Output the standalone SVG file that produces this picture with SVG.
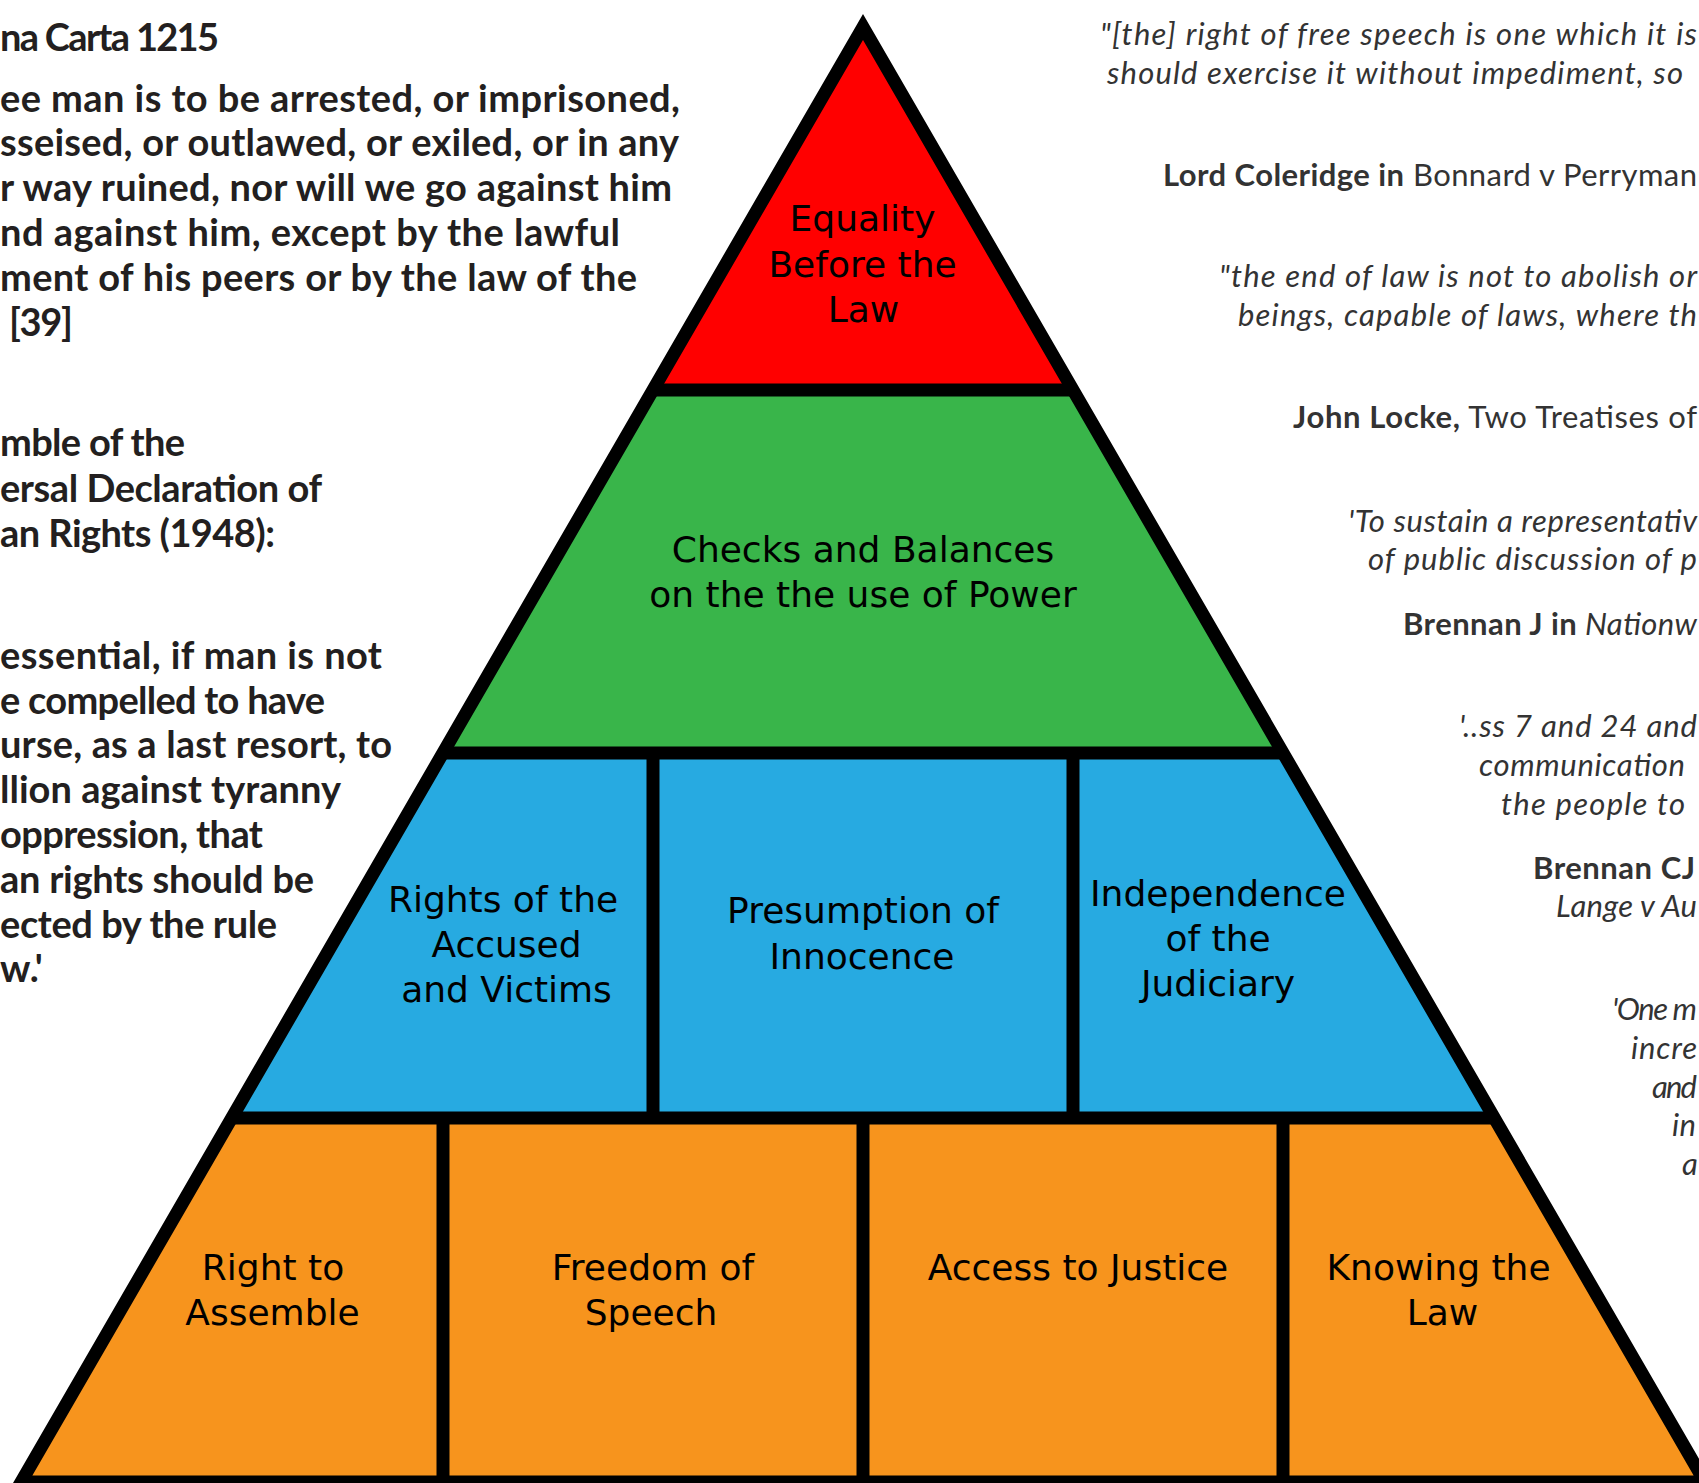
<svg xmlns="http://www.w3.org/2000/svg" width="1699" height="1483" viewBox="0 0 1699 1483">
<style>
.bg{fill:#ffffff}
.red{fill:#ff0000}
.green{fill:#39b54a}
.blue{fill:#27aae1}
.orange{fill:#f7941d}
.lbl{font-family:"DejaVu Sans","Liberation Sans",sans-serif;font-size:36px;fill:#000;text-anchor:middle}
.lt{font-family:Lato,"Liberation Sans",sans-serif;font-weight:700;font-size:38px;fill:#231f20}
.rt{font-family:Lato,"Liberation Sans",sans-serif;font-style:italic;font-weight:400;font-size:31px;fill:#333333}
.b{font-style:normal;font-weight:700}
.n{font-style:normal;font-weight:400}
.lines{fill:none;stroke:#000;stroke-width:13;stroke-linejoin:miter;stroke-miterlimit:10}
</style>
<rect class="bg" x="0" y="0" width="1699" height="1483"/>

<g id="tier1-equality">
<polygon class="red" points="863,27 653,390 1073,390"/>
<text class="lbl"><tspan x="862.5" y="231">Equality</tspan><tspan x="862.5" y="277">Before the</tspan><tspan x="863.5" y="322">Law</tspan></text>
</g>

<g id="tier2-checks">
<polygon class="green" points="653,390 1073,390 1283.1,753 442.9,753"/>
<text class="lbl"><tspan x="863" y="562">Checks and Balances</tspan><tspan x="863" y="607">on the the use of Power</tspan></text>
</g>

<g id="tier3-rights-accused">
<polygon class="blue" points="442.9,753 653,753 653,1118 231.7,1118"/>
<text class="lbl"><tspan x="503" y="912">Rights of the</tspan><tspan x="506.5" y="957">Accused</tspan><tspan x="506.5" y="1002">and Victims</tspan></text>
</g>

<g id="tier3-presumption">
<polygon class="blue" points="653,753 1073,753 1073,1118 653,1118"/>
<text class="lbl"><tspan x="863" y="923">Presumption of</tspan><tspan x="862" y="969">Innocence</tspan></text>
</g>

<g id="tier3-independence">
<polygon class="blue" points="1073,753 1283.1,753 1494.3,1118 1073,1118"/>
<text class="lbl"><tspan x="1218" y="906">Independence</tspan><tspan x="1218" y="951">of the</tspan><tspan x="1218" y="996">Judiciary</tspan></text>
</g>

<g id="tier4-assemble">
<polygon class="orange" points="231.7,1118 443,1118 443,1482 21.1,1482"/>
<text class="lbl"><tspan x="273" y="1280">Right to</tspan><tspan x="272.5" y="1325">Assemble</tspan></text>
</g>

<g id="tier4-speech">
<polygon class="orange" points="443,1118 863,1118 863,1482 443,1482"/>
<text class="lbl"><tspan x="653" y="1280">Freedom of</tspan><tspan x="651" y="1325">Speech</tspan></text>
</g>

<g id="tier4-justice">
<polygon class="orange" points="863,1118 1283,1118 1283,1482 863,1482"/>
<text class="lbl"><tspan x="1078" y="1280">Access to Justice</tspan></text>
</g>

<g id="tier4-knowing">
<polygon class="orange" points="1283,1118 1494.3,1118 1704.9,1482 1283,1482"/>
<text class="lbl"><tspan x="1438.5" y="1280">Knowing the</tspan><tspan x="1442.5" y="1325">Law</tspan></text>
</g>

<g id="connectors">
<path class="lines" d="M863,27 L21.1,1482 L1704.9,1482 Z"/>
<path class="lines" d="M653,390 H1073 M442.9,753 H1283.1 M231.7,1118 H1494.3 M653,753 V1118 M1073,753 V1118 M443,1118 V1482 M863,1118 V1482 M1283,1118 V1482"/>
</g>

<g id="left-magna-carta">
<text class="lt" x="0" y="51" textLength="219" lengthAdjust="spacing">na Carta 1215</text>
<text class="lt" x="0" y="112" textLength="680" lengthAdjust="spacing">ee man is to be arrested, or imprisoned,</text>
<text class="lt" x="0" y="156" textLength="679" lengthAdjust="spacing">sseised, or outlawed, or exiled, or in any</text>
<text class="lt" x="0" y="201" textLength="672" lengthAdjust="spacing">r way ruined, nor will we go against him</text>
<text class="lt" x="0" y="246" textLength="620" lengthAdjust="spacing">nd against him, except by the lawful</text>
<text class="lt" x="0" y="291" textLength="637" lengthAdjust="spacing">ment of his peers or by the law of the</text>
<text class="lt" x="9" y="336" textLength="64" lengthAdjust="spacing">[39]</text>
</g>

<g id="left-udhr">
<text class="lt" x="0" y="456" textLength="185" lengthAdjust="spacing">mble of the</text>
<text class="lt" x="0" y="502" textLength="322" lengthAdjust="spacing">ersal Declaration of</text>
<text class="lt" x="0" y="547" textLength="275" lengthAdjust="spacing">an Rights (1948):</text>
<text class="lt" x="0" y="669" textLength="382" lengthAdjust="spacing">essential, if man is not</text>
<text class="lt" x="0" y="714" textLength="325" lengthAdjust="spacing">e compelled to have</text>
<text class="lt" x="0" y="758" textLength="392" lengthAdjust="spacing">urse, as a last resort, to</text>
<text class="lt" x="0" y="803" textLength="341" lengthAdjust="spacing">llion against tyranny</text>
<text class="lt" x="0" y="848" textLength="263" lengthAdjust="spacing">oppression, that</text>
<text class="lt" x="0" y="893" textLength="314" lengthAdjust="spacing">an rights should be</text>
<text class="lt" x="0" y="938" textLength="277" lengthAdjust="spacing">ected by the rule</text>
<text class="lt" x="0" y="982">w.'</text>
</g>

<g id="right-quotes">
<text class="rt" x="1100" y="45" textLength="597" lengthAdjust="spacing">"[the] right of free speech is one which it is</text>
<text class="rt" x="1107" y="84" textLength="576" lengthAdjust="spacing">should exercise it without impediment, so</text>
<text class="rt" x="1163" y="186" textLength="534" lengthAdjust="spacing"><tspan class="b">Lord Coleridge in</tspan><tspan class="n"> Bonnard v Perryman</tspan></text>
<text class="rt" x="1219" y="287" textLength="478" lengthAdjust="spacing">"the end of law is not to abolish or</text>
<text class="rt" x="1238" y="326" textLength="459" lengthAdjust="spacing">beings, capable of laws, where th</text>
<text class="rt" x="1293" y="428" textLength="404" lengthAdjust="spacing"><tspan class="b">John Locke,</tspan><tspan class="n"> Two Treatises of</tspan></text>
<text class="rt" x="1348" y="532" textLength="349" lengthAdjust="spacing">'To sustain a representativ</text>
<text class="rt" x="1368" y="570" textLength="329" lengthAdjust="spacing">of public discussion of p</text>
<text class="rt" x="1403" y="635" textLength="294" lengthAdjust="spacing"><tspan class="b">Brennan J in</tspan> Nationw</text>
<text class="rt" x="1459" y="737" textLength="238" lengthAdjust="spacing">'..ss 7 and 24 and</text>
<text class="rt" x="1479" y="776" textLength="206" lengthAdjust="spacing">communication</text>
<text class="rt" x="1501" y="815" textLength="184" lengthAdjust="spacing">the people to</text>
<text class="rt b" x="1533" y="879" textLength="162" lengthAdjust="spacing">Brennan CJ</text>
<text class="rt" x="1556" y="917" textLength="141" lengthAdjust="spacing">Lange v Au</text>
<text class="rt" x="1612" y="1020" textLength="85" lengthAdjust="spacing">'One m</text>
<text class="rt" x="1631" y="1059" textLength="66" lengthAdjust="spacing">incre</text>
<text class="rt" x="1652" y="1098" textLength="45" lengthAdjust="spacing">and</text>
<text class="rt" x="1672" y="1136" textLength="24" lengthAdjust="spacing">in</text>
<text class="rt" x="1682" y="1175">a</text>
</g>
</svg>
